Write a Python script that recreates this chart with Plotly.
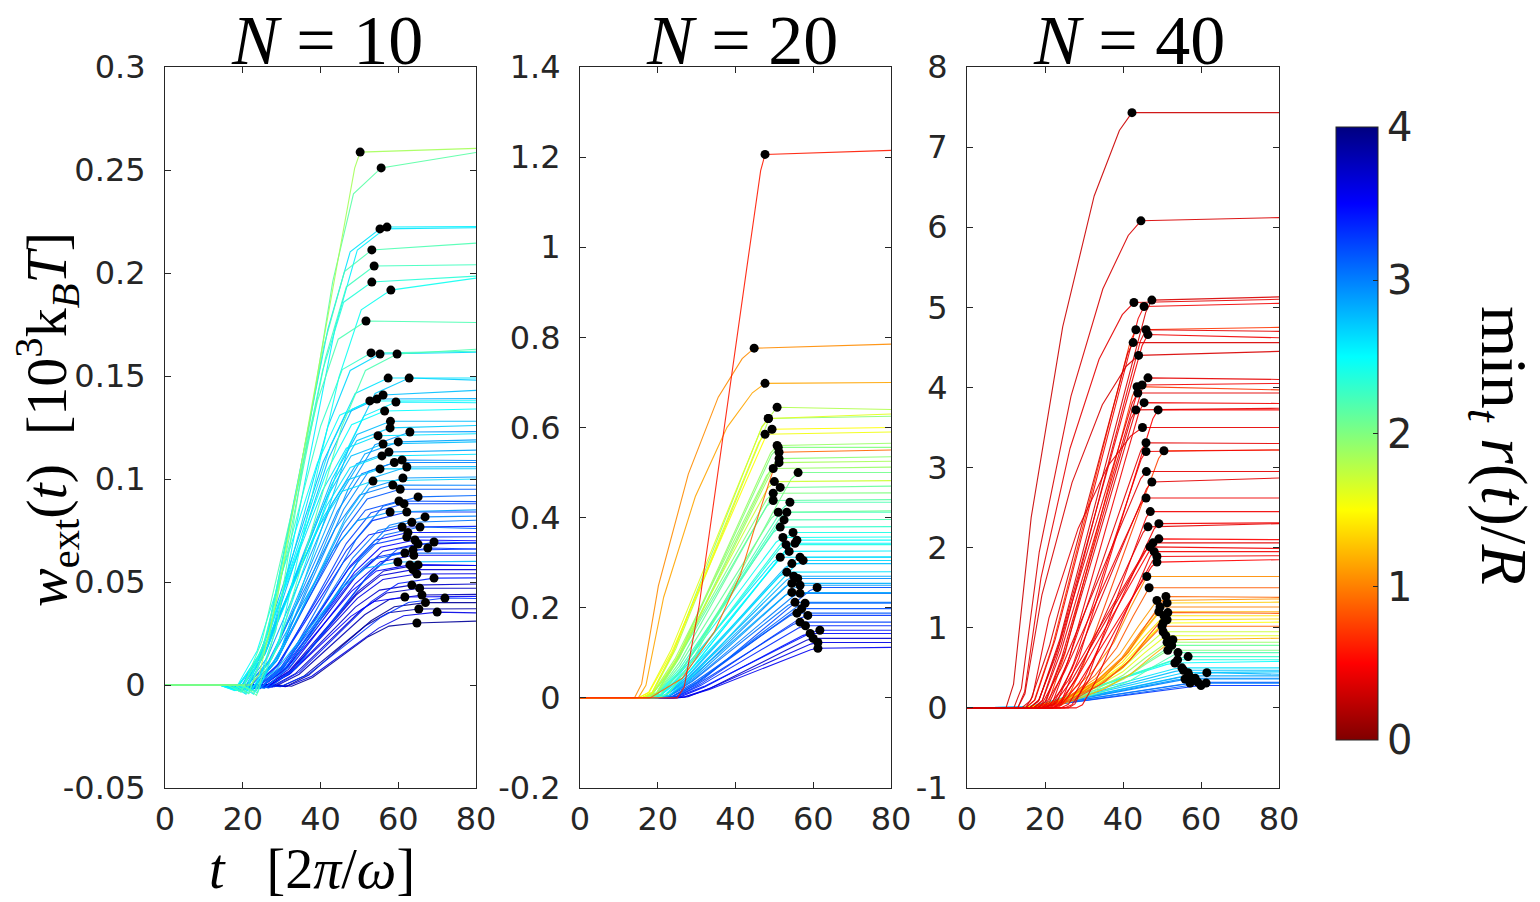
import plotly.graph_objects as go
from plotly.colors import sample_colorscale

# ---------------- colour map (MATLAB jet, reversed: 0 = dark red, 4 = dark blue)
JET_R = [[0.0, '#800000'], [0.125, '#ff0000'], [0.375, '#ffff00'],
         [0.625, '#00ffff'], [0.875, '#0000ff'], [1.0, '#000080']]
C_MIN, C_MAX = 0.0, 4.0

# ---------------- rise profiles (fraction of time between onset and dot, fraction of dot value)
PROFILE_T = {
    'S': [0, 0.10, 0.25, 0.45, 0.65, 0.80, 1.0],
    'L': [0, 0.08, 0.25, 0.80, 0.95, 1.0],
    'C': [0, 0.06, 0.20, 0.45, 0.70, 0.90, 1.0],
    'V': [0, 0.25, 0.50, 0.70, 0.85, 1.0],
}
PROFILE_W = {
    'S': [0, -0.02, 0.12, 0.45, 0.78, 0.95, 1.0],
    'L': [0, 0.02, 0.17, 0.80, 0.97, 1.0],
    'C': [0, 0.04, 0.32, 0.64, 0.86, 0.97, 1.0],
    'V': [0, 0.08, 0.27, 0.50, 0.76, 1.0],
}
T_END = 80

# ---------------- N = 10
N10_MINR = [1.85, 2.15, 2.6, 2.55, 2.2, 2.25, 2.35, 2.45, 2.2, 2.3, 2.65, 2.2, 2.6, 2.7,
            2.75, 2.5, 2.8, 2.55, 2.7, 2.9, 2.75, 2.85, 2.6, 2.95, 2.8, 2.7, 2.65, 3.0,
            2.9, 3.1, 3.2, 2.9, 3.3, 3.0, 3.4, 3.1, 3.3, 3.5, 3.2, 3.6, 3.3, 3.1, 2.8,
            3.5, 3.7, 3.6, 3.4, 3.7, 3.5, 3.8, 3.3, 3.85, 3.6, 3.9,
            2.75, 2.85, 3.0, 3.15, 3.25, 3.05, 3.45, 3.55, 3.65, 3.75, 2.5, 2.6, 3.35, 3.9]
N10_T_ON = [22, 20, 17, 19, 18, 18, 17, 20, 16, 16, 17, 19, 15, 19,
            16, 14, 15, 18, 15, 18, 15, 16, 15, 18, 18, 14, 14, 16,
            18, 20, 17, 16, 18, 21, 18, 20, 19, 20, 22, 20, 22, 19, 18,
            20, 21, 21, 23, 22, 22, 24, 25, 26, 27, 29,
            15, 17, 17, 18, 19, 20, 20, 21, 22, 23, 14, 14, 19, 27]
N10_T_DOT = [50.2, 55.6, 55.3, 57.1, 53.2, 53.8, 53.2, 58.1, 51.7, 53.0, 55.3, 59.7, 57.4, 62.8,
             56.1, 52.7, 54.5, 59.4, 57.9, 63.0, 56.1, 57.6, 55.8, 61.0, 62.2, 55.3, 53.5, 58.6,
             61.2, 65.1, 60.2, 57.9, 62.2, 66.9, 61.0, 65.6, 62.2, 64.3, 69.2, 65.1, 67.6, 61.7, 59.9,
             63.0, 65.1, 64.8, 69.2, 63.5, 61.7, 66.1, 72.0, 65.3, 70.0, 64.8,
             58.0, 60.0, 59.0, 60.5, 61.5, 63.5, 62.5, 64.0, 63.8, 65.5, 56.5, 54.8, 63.8, 67.0]
N10_W_DOT = [0.2587, 0.2510, 0.2214, 0.2223, 0.2112, 0.2034, 0.1956, 0.1917, 0.1767, 0.1612,
             0.1607, 0.1607, 0.1490, 0.1490, 0.1408, 0.1379, 0.1388, 0.1374, 0.1248, 0.1228,
             0.1170, 0.1131, 0.1112, 0.1092, 0.1058, 0.1049, 0.0990, 0.0971, 0.1005, 0.0913,
             0.0893, 0.0840, 0.0840, 0.0816, 0.0767, 0.0767, 0.0718, 0.0704, 0.0694, 0.0684,
             0.0665, 0.0641, 0.0597, 0.0583, 0.0583, 0.0539, 0.0519, 0.0485, 0.0427, 0.0437,
             0.0422, 0.0369, 0.0354, 0.0301,
             0.128, 0.118, 0.108, 0.095, 0.088, 0.079, 0.074, 0.063, 0.056, 0.047, 0.133, 0.121,
             0.0655, 0.040]
N10_W_END = [0.2605, 0.2585, 0.2220, 0.2225, 0.2145, 0.2040, 0.1985, 0.1975, 0.1760, 0.1620,
             0.1615, 0.1630, 0.1490, 0.1480, 0.1430, 0.1380, 0.1390, 0.1370, 0.1260, 0.1230,
             0.1180, 0.1140, 0.1120, 0.1090, 0.1060, 0.1050, 0.1000, 0.0970, 0.1010, 0.0920,
             0.0890, 0.0850, 0.0840, 0.0820, 0.0770, 0.0760, 0.0720, 0.0700, 0.0690, 0.0690,
             0.0660, 0.0640, 0.0600, 0.0580, 0.0580, 0.0540, 0.0520, 0.0490, 0.0430, 0.0440,
             0.0420, 0.0370, 0.0350, 0.0310,
             0.128, 0.119, 0.108, 0.095, 0.088, 0.080, 0.074, 0.063, 0.056, 0.047, 0.134, 0.122,
             0.066, 0.040]
N10_SHAPE = ['L'] + ['S'] * (len(N10_MINR) - 1)

# ---------------- N = 20
N20_MINR = [0.6, 1.05, 1.15, 1.8, 1.95, 1.5, 1.55, 1.9, 0.9, 1.95, 2.0, 1.85, 1.9, 2.05,
            2.1, 2.0, 2.15, 2.2, 2.1, 2.25, 2.3, 2.4, 2.45, 2.5, 2.55, 2.6, 2.7, 2.65,
            2.75, 2.6, 2.8, 2.9, 3.2, 2.85, 3.0, 3.05, 3.1, 3.15, 3.3, 3.25, 3.45, 3.4,
            3.6, 3.55,
            1.7, 2.2, 2.55, 2.95, 3.2, 3.35, 3.7, 1.6, 2.4, 2.85]
N20_T_ON = [25, 14, 15, 16, 16, 15, 16, 17, 18, 17, 17, 17, 16, 20,
            17, 16, 16, 18, 17, 18, 17, 18, 17, 19, 19, 17, 19, 20,
            19, 18, 19, 20, 22, 19, 20, 20, 21, 20, 22, 21, 23, 22,
            24, 24,
            16, 18, 18, 20, 21, 22, 25, 15, 18, 19]
N20_T_DOT = [47.6, 44.8, 47.6, 50.7, 48.4, 49.4, 47.6, 50.7, 51.2, 51.2, 51.0, 51.2, 49.7, 56.1,
             51.5, 49.7, 49.7, 54.0, 51.0, 53.2, 51.5, 54.8, 52.2, 55.8, 55.3, 51.5, 56.6, 57.4,
             54.5, 53.2, 54.5, 56.6, 61.0, 54.5, 56.6, 55.3, 57.9, 55.8, 58.6, 56.6, 59.2, 61.7,
             61.2, 61.2,
             50.0, 52.5, 53.8, 56.0, 57.0, 58.0, 60.0, 48.5, 53.0, 55.0]
N20_W_DOT = [1.206, 0.776, 0.698, 0.645, 0.620, 0.596, 0.585, 0.560, 0.545, 0.531, 0.556, 0.522,
             0.509, 0.500, 0.467, 0.454, 0.438, 0.434, 0.412, 0.412, 0.379, 0.367, 0.356, 0.350,
             0.343, 0.312, 0.312, 0.305, 0.298, 0.279, 0.254, 0.250, 0.245, 0.234, 0.232, 0.212,
             0.210, 0.188, 0.183, 0.168, 0.143, 0.150, 0.123, 0.110,
             0.480, 0.395, 0.325, 0.265, 0.198, 0.160, 0.132, 0.620, 0.340, 0.270]
N20_W_END = [1.215, 0.785, 0.700, 0.640, 0.625, 0.600, 0.590, 0.565, 0.550, 0.535, 0.556, 0.525,
             0.512, 0.500, 0.470, 0.455, 0.440, 0.434, 0.415, 0.412, 0.380, 0.367, 0.357, 0.350,
             0.343, 0.313, 0.312, 0.305, 0.298, 0.280, 0.254, 0.250, 0.245, 0.234, 0.232, 0.212,
             0.210, 0.188, 0.183, 0.168, 0.143, 0.150, 0.123, 0.112,
             0.482, 0.396, 0.326, 0.265, 0.198, 0.160, 0.132, 0.630, 0.340, 0.270]
N20_SHAPE = ['L', 'C', 'C', 'L', 'L', 'L', 'L', 'L', 'V'] + ['L'] * 45

# ---------------- N = 40
N40_MINR = [0.3, 0.35, 0.4, 0.45, 0.35, 0.7, 0.4, 0.45, 0.35, 0.4, 0.45, 0.7, 0.4, 0.45,
            0.4, 0.5, 0.4, 0.45, 0.75, 0.4, 0.45, 0.4, 0.45, 0.5, 0.4, 0.45, 0.45, 0.5,
            1.05, 0.85, 1.1, 0.9, 1.3, 1.2, 0.8, 1.5, 1.35, 1.7, 1.2, 1.9, 2.0, 2.2,
            2.5, 2.3, 2.6, 2.7, 2.9, 3.0, 2.8, 3.1, 3.2, 3.0,
            0.35, 0.4, 0.4, 0.45, 0.45, 1.0, 1.4, 0.9, 1.6, 2.1, 2.4, 2.75, 3.3, 2.85]
N40_T_ON = [10, 12, 13, 15, 16, 15, 17, 16, 14, 18, 17, 19, 16, 20,
            18, 22, 19, 21, 23, 20, 18, 22, 24, 21, 20, 19, 25, 22,
            18, 19, 17, 19, 16, 17, 19, 15, 16, 14, 17, 14, 14, 14,
            12, 14, 12, 12, 12, 12, 12, 12, 11, 11,
            13, 15, 17, 26, 28, 17, 15, 17, 14, 14, 13, 13, 11, 12]
N40_T_DOT = [42.3, 44.6, 42.8, 45.4, 47.4, 43.3, 45.9, 46.4, 42.6, 46.4, 44.9, 43.6, 43.8, 45.4,
             43.3, 49.0, 45.9, 45.9, 50.5, 47.4, 45.9, 46.4, 49.2, 49.2, 47.7, 46.9, 48.7, 48.7,
             46.1, 46.7, 48.7, 51.0, 51.3, 49.2, 51.5, 50.3, 51.3, 50.3, 52.8, 51.3, 51.5, 54.1,
             53.3, 56.7, 55.1, 56.7, 55.9, 58.5, 61.5, 61.3, 59.2, 57.2,
             44.0, 45.0, 46.0, 47.0, 48.0, 49.5, 50.5, 50.0, 51.0, 52.5, 54.0, 55.5, 60.0, 57.0]
N40_W_DOT = [7.43, 6.08, 5.06, 5.01, 5.09, 4.72, 4.72, 4.66, 4.56, 4.12, 4.03, 4.01, 3.93, 3.81,
             3.72, 3.72, 3.31, 3.20, 3.21, 2.82, 2.62, 2.26, 2.30, 2.11, 2.06, 2.01, 1.89, 1.82,
             1.64, 1.50, 1.34, 1.39, 1.31, 1.20, 1.19, 1.06, 1.10, 0.95, 0.85, 0.82, 0.72, 0.69,
             0.56, 0.64, 0.50, 0.44, 0.36, 0.37, 0.44, 0.31, 0.32, 0.31,
             4.40, 3.50, 2.95, 2.45, 1.95, 1.26, 1.15, 1.02, 0.90, 0.78, 0.60, 0.47, 0.28, 0.40]
N40_W_END = [7.43, 6.12, 5.10, 5.05, 5.13, 4.75, 4.70, 4.62, 4.56, 4.10, 4.05, 3.97, 3.93, 3.80,
             3.74, 3.72, 3.30, 3.22, 3.22, 2.87, 2.62, 2.30, 2.31, 2.10, 2.06, 1.99, 1.90, 1.85,
             1.64, 1.50, 1.36, 1.38, 1.32, 1.20, 1.18, 1.07, 1.11, 0.95, 0.87, 0.82, 0.72, 0.69,
             0.58, 0.64, 0.50, 0.45, 0.36, 0.37, 0.42, 0.31, 0.32, 0.31,
             4.45, 3.50, 2.95, 2.45, 1.95, 1.26, 1.15, 1.02, 0.90, 0.78, 0.60, 0.47, 0.28, 0.40]
N40_SHAPE = (['C', 'C', 'C'] + ['L'] * 25 + ['V'] * 14 + ['L'] * 10
             + ['C', 'C', 'L', 'L', 'L'] + ['V'] * 5 + ['L'] * 4)

# ---------------- axes ticks
X_TICKS = [0, 20, 40, 60, 80]
Y10_TICKS = [-0.05, 0, 0.05, 0.1, 0.15, 0.2, 0.25, 0.3]
Y10_TEXT = ['-0.05', '0', '0.05', '0.1', '0.15', '0.2', '0.25', '0.3']
Y20_TICKS = [-0.2, 0, 0.2, 0.4, 0.6, 0.8, 1.0, 1.2, 1.4]
Y20_TEXT = ['-0.2', '0', '0.2', '0.4', '0.6', '0.8', '1', '1.2', '1.4']
Y40_TICKS = [-1, 0, 1, 2, 3, 4, 5, 6, 7, 8]
Y40_TEXT = ['-1', '0', '1', '2', '3', '4', '5', '6', '7', '8']
CB_TICKS = [0, 1, 2, 3, 4]
TITLES = ['<i>N</i> = 10', '<i>N</i> = 20', '<i>N</i> = 40']

PANELS = [
    (N10_MINR, N10_T_ON, N10_T_DOT, N10_W_DOT, N10_W_END, N10_SHAPE, (-0.05, 0.3), Y10_TICKS, Y10_TEXT),
    (N20_MINR, N20_T_ON, N20_T_DOT, N20_W_DOT, N20_W_END, N20_SHAPE, (-0.2, 1.4), Y20_TICKS, Y20_TEXT),
    (N40_MINR, N40_T_ON, N40_T_DOT, N40_W_DOT, N40_W_END, N40_SHAPE, (-1, 8), Y40_TICKS, Y40_TEXT),
]

W, H = 1540, 902
X_DOMAINS = [(165, 476), (580, 891), (967, 1279)]
Y_TOP, Y_BOT = 67, 788
AX_COLOR = '#262626'
TICK_FONT = dict(family='DejaVu Sans', size=32, color=AX_COLOR)
SERIF = 'Liberation Serif'

fig = go.Figure()

for k, (minr, t_on, t_dot, w_dot, w_end, shape, yr, yt, ytt) in enumerate(PANELS):
    xa = 'x' if k == 0 else f'x{k + 1}'
    ya = 'y' if k == 0 else f'y{k + 1}'
    order = sorted(range(len(minr)), key=lambda i: -minr[i])
    for i in order:
        pt = PROFILE_T[shape[i]]
        pw = PROFILE_W[shape[i]]
        xs = [0] + [t_on[i] + f * (t_dot[i] - t_on[i]) for f in pt] + [T_END]
        ys = [0] + [g * w_dot[i] for g in pw] + [w_end[i]]
        col = sample_colorscale(JET_R, [(minr[i] - C_MIN) / (C_MAX - C_MIN)])[0]
        fig.add_trace(go.Scatter(x=xs, y=ys, mode='lines', xaxis=xa, yaxis=ya,
                                 line=dict(color=col, width=1.1), opacity=0.9,
                                 showlegend=False, hoverinfo='skip'))
    fig.add_trace(go.Scatter(x=t_dot, y=w_dot, mode='markers', xaxis=xa, yaxis=ya,
                             marker=dict(color='black', size=9), showlegend=False,
                             hoverinfo='skip'))

# colour bar carrier
fig.add_trace(go.Scatter(
    x=[None], y=[None], mode='markers', showlegend=False, hoverinfo='skip',
    marker=dict(color=[0], colorscale=JET_R, cmin=C_MIN, cmax=C_MAX, showscale=True,
                colorbar=dict(thickness=42, thicknessmode='pixels',
                              len=(740 - 127) / H, lenmode='fraction',
                              x=1336 / W, xanchor='left', y=1 - (127 + 740) / 2 / H,
                              yanchor='middle', xpad=0, ypad=0,
                              outlinecolor=AX_COLOR, outlinewidth=1,
                              tickvals=CB_TICKS, ticktext=[str(v) for v in CB_TICKS],
                              ticks='inside', ticklen=5, tickcolor=AX_COLOR,
                              tickfont=dict(family='DejaVu Sans', size=40, color=AX_COLOR)))))

layout = dict(width=W, height=H, autosize=False,
              margin=dict(l=0, r=0, t=0, b=0, autoexpand=False),
              plot_bgcolor='white', paper_bgcolor='white', showlegend=False)
for k, (x0, x1) in enumerate(X_DOMAINS):
    sfx = '' if k == 0 else str(k + 1)
    yr, yt, ytt = PANELS[k][6], PANELS[k][7], PANELS[k][8]
    layout['xaxis' + sfx] = dict(domain=[x0 / W, x1 / W], range=[0, 80], anchor='y' + sfx,
                                 tickvals=X_TICKS, ticktext=[str(v) for v in X_TICKS],
                                 ticks='inside', ticklen=6, tickcolor=AX_COLOR,
                                 showline=True, linecolor=AX_COLOR, linewidth=1, mirror='ticks',
                                 showgrid=False, zeroline=False, tickfont=TICK_FONT,
                                 ticklabelstandoff=3, automargin=False)
    layout['yaxis' + sfx] = dict(domain=[1 - Y_BOT / H, 1 - Y_TOP / H], range=list(yr),
                                 anchor='x' + sfx, tickvals=yt, ticktext=ytt,
                                 ticks='inside', ticklen=6, tickcolor=AX_COLOR,
                                 showline=True, linecolor=AX_COLOR, linewidth=1, mirror='ticks',
                                 showgrid=False, zeroline=False, tickfont=TICK_FONT,
                                 ticklabelstandoff=12, automargin=False)
fig.update_layout(**layout)

annotations = []
for k, (x0, x1) in enumerate(X_DOMAINS):
    annotations.append(dict(text=TITLES[k], x=(x0 + x1 + 12) / 2 / W, y=1.0, xref='paper',
                            yref='paper', xanchor='center', yanchor='top', showarrow=False,
                            font=dict(family=SERIF, size=70, color='black')))
annotations.append(dict(text='<i>w</i><sub>ext</sub>(<i>t</i>)  [10<sup>3</sup>k<sub><i>B</i></sub><i>T</i>]',
                        x=0.0, y=1 - 420 / H, xref='paper', yref='paper', textangle=-90,
                        xanchor='left', yanchor='middle', xshift=4, showarrow=False,
                        font=dict(family=SERIF, size=58, color='black')))
annotations.append(dict(text='<i>t</i>   [2<i>π</i>/<i>ω</i>]', x=312 / W, y=0.0,
                        xref='paper', yref='paper', xanchor='center', yanchor='bottom',
                        showarrow=False, font=dict(family=SERIF, size=56, color='black')))
annotations.append(dict(text='min<sub><i>t</i></sub> <i>r</i>(<i>t</i>)/<i>R</i>',
                        x=1500 / W, y=1 - 445 / H, xref='paper', yref='paper', textangle=90,
                        xanchor='center', yanchor='middle', showarrow=False,
                        font=dict(family=SERIF, size=66, color='black')))
fig.update_layout(annotations=annotations)

fig.write_html('out.html')
